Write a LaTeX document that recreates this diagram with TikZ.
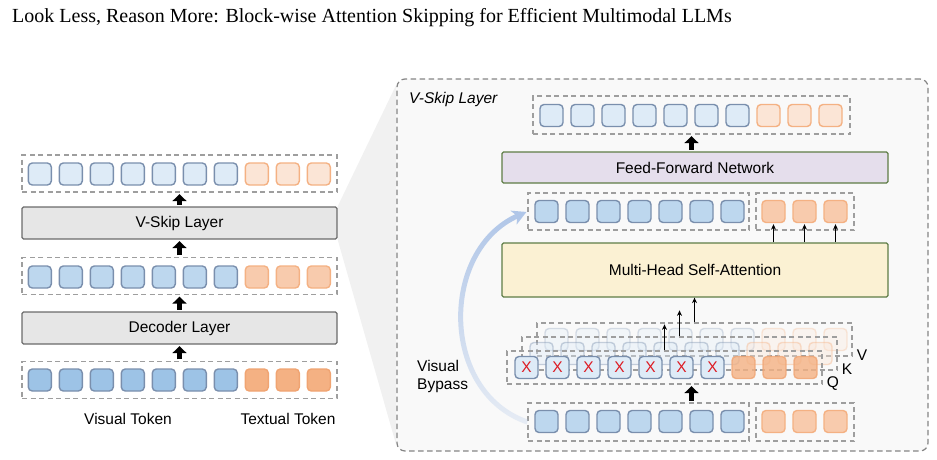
\documentclass[tikz,border=0pt]{standalone}
\usepackage{fontspec}
\setmainfont{Liberation Serif}
\newfontfamily\sansf{Liberation Sans}
\usetikzlibrary{arrows.meta,fadings,calc}
\definecolor{blueA}{HTML}{DEEBF7}
\definecolor{blueB}{HTML}{BDD7EE}
\definecolor{blueC}{HTML}{9DC3E6}
\definecolor{blueS}{HTML}{7A8FAD}
\definecolor{orA}{HTML}{FBE5D6}
\definecolor{orB}{HTML}{F8CBAD}
\definecolor{orC}{HTML}{F4B183}
\definecolor{orS}{HTML}{F4B183}
\definecolor{orSC}{HTML}{F0A472}
\definecolor{dashgray}{HTML}{9E9E9E}
\definecolor{panelgray}{HTML}{858585}
\definecolor{panelF}{HTML}{F9F9F9}
\definecolor{trapF}{HTML}{F1F1F1}
\definecolor{grayF}{HTML}{E6E6E6}
\definecolor{grayS}{HTML}{6B6B6B}
\definecolor{ffnF}{HTML}{E5DEEC}
\definecolor{mhsaF}{HTML}{FBF1D3}
\definecolor{greenS}{HTML}{5E7D46}
\definecolor{bypassC}{HTML}{B0C6E8}
\definecolor{xred}{HTML}{DD1A22}
\newcommand\mylbl{\sansf\fontsize{15.5}{18}\selectfont}
\pgfdeclarelayer{bg}
\pgfsetlayers{bg,main}
\tikzfading[name=bypassfade, top color=transparent!0, middle color=transparent!10, bottom color=transparent!75]
\begin{document}
\begin{tikzpicture}[x=1pt,y=-1pt,
  tok/.style={rectangle, rounded corners=4pt, minimum width=23pt, minimum height=22pt, inner sep=0pt, line width=1.4pt},
  tbA/.style={tok, fill=blueA, draw=blueS},
  tbB/.style={tok, fill=blueB, draw=blueS},
  tbC/.style={tok, fill=blueC, draw=blueS},
  toA/.style={tok, fill=orA, draw=orS},
  toB/.style={tok, fill=orB, draw=orS},
  toC/.style={tok, fill=orC, draw=orSC},
  qtok/.style={tbA, font=\sansf\fontsize{15.5}{16}\selectfont, text=xred},
  qotok/.style={toC, fill opacity=0.8, draw opacity=0.8},
  kvtok/.style={tok, fill=blueA, draw=blueS},
  kvotok/.style={tok, fill=orA, draw=orS},
  dbox/.style={rectangle, draw=dashgray, dash pattern=on 5pt off 3.5pt, line width=1.3pt, inner sep=0pt},
  graybox/.style={rectangle, fill=grayF, draw=grayS, line width=1.3pt, rounded corners=1.5pt, minimum width=315pt, minimum height=32pt, font=\mylbl},
  greenbox/.style={rectangle, draw=greenS, line width=1.3pt, rounded corners=1.5pt, minimum width=386pt, font=\mylbl},
  lbl/.style={font=\mylbl, inner sep=0pt},
  fat/.style={line width=5.5pt, -{Triangle[length=7pt,width=14pt]}, shorten <=1.5pt, shorten >=1.5pt},
  thinarr/.style={line width=1.3pt, -{Stealth[length=5.5pt,width=5pt]}},
  bypass/.style={line width=5pt, draw=bypassC, -{Stealth[length=14pt,width=15pt,inset=4pt]}, path fading=bypassfade}
]
\useasboundingbox (0,0) rectangle (937,459);

% title
\node[anchor=base west, inner sep=0pt, font=\fontsize{20}{24}\selectfont] (title) at (12,22.5) {Look Less, Reason More: Block-wise Attention Skipping for Efficient Multimodal LLMs};

% ---------- left column ----------
\node[dbox, minimum width=315pt, minimum height=37pt] (L1) at (179.5,173.5) {};
\foreach \i in {0,...,6} \node[tbA] (L1t\i) at (39.8+31*\i,174) {};
\foreach \i in {7,8,9} \node[toA] (L1t\i) at (39.8+31*\i,174) {};

\node[graybox] (vskip) at (179.5,223) {V-Skip Layer};

\node[dbox, minimum width=315pt, minimum height=37pt] (L2) at (179.5,276) {};
\foreach \i in {0,...,6} \node[tbB] (L2t\i) at (39.8+31*\i,277) {};
\foreach \i in {7,8,9} \node[toB] (L2t\i) at (39.8+31*\i,277) {};

\node[graybox] (decoder) at (179.5,328) {Decoder Layer};

\node[dbox, minimum width=315pt, minimum height=37pt] (L3) at (179.5,380) {};
\foreach \i in {0,...,6} \node[tbC] (L3t\i) at (39.8+31*\i,380) {};
\foreach \i in {7,8,9} \node[toC] (L3t\i) at (39.8+31*\i,380) {};

\node[lbl] (vislab) at (128,419) {Visual Token};
\node[lbl] (txtlab) at (288,419) {Textual Token};

\draw[fat] (vskip.north) -- (L1.south);
\draw[fat] (L2.north) -- (vskip.south);
\draw[fat] (decoder.north) -- (L2.south);
\draw[fat] (L3.north) -- (decoder.south);

% ---------- right panel ----------
\node[rectangle, fill=panelF, draw=panelgray, dash pattern=on 5.5pt off 3.5pt, line width=1.2pt, rounded corners=8pt, minimum width=531pt, minimum height=372pt, inner sep=0pt] (panel) at (662.5,265) {};

\begin{pgfonlayer}{bg}
\fill[trapF] (vskip.north east) -- ([yshift=-6pt]panel.north west) -- ([yshift=6pt]panel.south west) -- (vskip.south east) -- cycle;
\end{pgfonlayer}

\node[anchor=west, inner sep=0pt, font=\sansf\itshape\fontsize{15.5}{18}\selectfont] (ptitle) at (409,99) {V-Skip Layer};

% top row
\node[dbox, minimum width=317pt, minimum height=38pt] (R1) at (691.5,115) {};
\foreach \i in {0,...,6} \node[tbA] (R1t\i) at (551.5+31*\i,115.5) {};
\foreach \i in {7,8,9} \node[toA] (R1t\i) at (551.5+31*\i,115.5) {};

\node[greenbox, fill=ffnF, minimum height=31pt] (ffn) at (695,167.5) {Feed-Forward Network};
\draw[fat] (R1.south |- ffn.north) -- (R1.south);

% middle row
\node[dbox, minimum width=221pt, minimum height=37pt] (R2b) at (638.5,211.5) {};
\node[dbox, minimum width=98pt, minimum height=37pt] (R2o) at (805,211.5) {};
\foreach \i in {0,...,6} \node[tbB] (R2t\i) at (546.5+31*\i,211.5) {};
\foreach \i in {7,8,9} \node[toB] (R2t\i) at (556.5+31*\i,211.5) {};

\node[greenbox, fill=mhsaF, minimum height=54pt] (mhsa) at (695,270) {Multi-Head Self-Attention};
\foreach \i in {7,8,9} \draw[thinarr, shorten >=1pt] (R2t\i.south |- mhsa.north) -- (R2t\i.south);

% V row
\node[dbox, minimum width=315pt, minimum height=33pt] (V) at (694.5,339.5) {};
\begin{scope}[opacity=0.28]
\foreach \i in {0,...,6} \node[kvtok] (Vt\i) at (556.5+31*\i,339.5) {};
\foreach \i in {7,8,9} \node[kvotok] (Vt\i) at (556.5+31*\i,339.5) {};
\end{scope}
% K row
\node[dbox, minimum width=315pt, minimum height=33pt] (K) at (679.5,353.5) {};
\begin{scope}[opacity=0.4]
\foreach \i in {0,...,6} \node[kvtok] (Kt\i) at (541.5+31*\i,353.5) {};
\foreach \i in {7,8,9} \node[kvotok] (Kt\i) at (541.5+31*\i,353.5) {};
\end{scope}
% Q row
\node[dbox, minimum width=315pt, minimum height=33pt] (Q) at (664.5,367.5) {};
\foreach \i in {0,...,6} \node[qtok] (Qt\i) at (526.5+31*\i,367.5) {X};
\foreach \i in {7,8,9} \node[qotok] (Qt\i) at (526.5+31*\i,367.5) {};

\node[lbl, anchor=west] (qlab) at ([xshift=4pt,yshift=1pt]Q.south east) {Q};
\node[lbl, anchor=west] (klab) at ([xshift=4pt,yshift=1pt]K.south east) {K};
\node[lbl, anchor=west] (vlab) at ([xshift=4pt,yshift=1pt]V.south east) {V};

\coordinate (qtip) at ([yshift=26pt]Q.north);
\coordinate (ktip) at ([yshift=26pt]K.north);
\draw[thinarr] (Q.north) -- (qtip);
\draw[thinarr] (K.north) -- (ktip);
\draw[thinarr] (V.north) -- (V.north |- mhsa.south);

% bottom row
\node[dbox, minimum width=221pt, minimum height=38pt] (R3b) at (638.5,422) {};
\node[dbox, minimum width=98pt, minimum height=38pt] (R3o) at (805,422) {};
\foreach \i in {0,...,6} \node[tbB] (R3t\i) at (546.5+31*\i,421.5) {};
\foreach \i in {7,8,9} \node[toB] (R3t\i) at (556.5+31*\i,421.5) {};

\draw[fat] (R3b.north -| R1.south) -- (Q.south -| R1.south);

% visual bypass
\draw[bypass, shorten >=1pt] (R3b.west) .. controls (440,392) and (440,250) .. (R2b.west);
\node[lbl, align=left, anchor=west] (vb) at (417,376) {Visual\\Bypass};

\end{tikzpicture}
\end{document}
